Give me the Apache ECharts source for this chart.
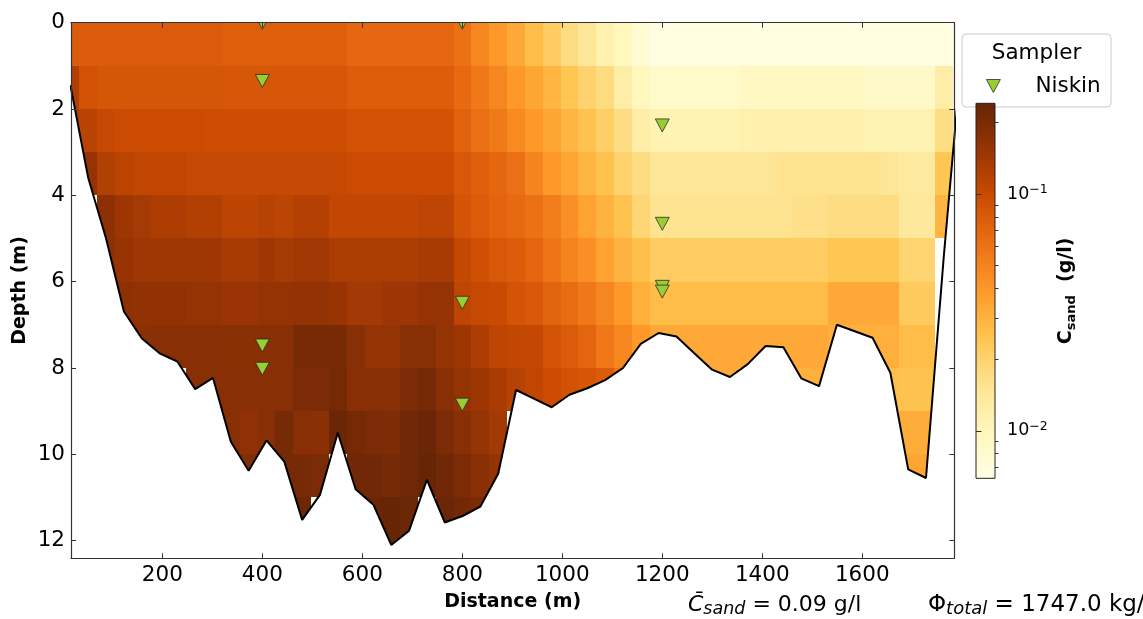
<!DOCTYPE html>
<html><head><meta charset="utf-8">
<script src="https://cdn.jsdelivr.net/npm/echarts@6/dist/echarts.min.js"></script>
<style>html,body{margin:0;padding:0;background:#fff}#c{width:1143px;height:619px}</style>
</head><body><div id="c"></div>
<script>
// ---------------- data ----------------
const distances = [16.2, 51.9, 87.5, 123.2, 158.8, 194.5, 230.1, 265.8, 301.4, 337.1, 372.7, 408.4, 444.0, 479.7, 515.3, 551.0, 586.6, 622.3, 657.9, 693.6, 729.2, 764.9, 800.5, 836.2, 871.8, 907.5, 943.1, 978.8, 1014.4, 1050.1, 1085.7, 1121.4, 1157.0, 1192.7, 1228.3, 1264.0, 1299.6, 1335.3, 1370.9, 1406.6, 1442.2, 1477.9, 1513.5, 1549.2, 1584.8, 1620.5, 1656.1, 1691.8, 1727.4, 1763.1];
const depthRows = [0,1,2,3,4,5,6,7,8,9,10,11,12];
const N = null;
const row0 = [0.079,0.079,0.079,0.079,0.079,0.079,0.079,0.079,0.079,0.076,0.076,0.076,0.076,0.076,0.076,0.076,0.068,0.068,0.068,0.068,0.068,0.068,0.061,0.048,0.039,0.033,0.027,0.022,0.0175,0.0146,0.0112,0.0099,0.0076,0.0066,0.0066,0.0066,0.0066,0.0066,0.0066,0.0066,0.0066,0.0066,0.0066,0.0066,0.0066,0.0066,0.0066,0.0066,0.0066,0.0066];
const row1 = [0.124,0.090,0.086,0.086,0.086,0.086,0.086,0.086,0.086,0.084,0.084,0.084,0.084,0.084,0.084,0.084,0.077,0.077,0.077,0.077,0.077,0.077,0.066,0.056,0.048,0.039,0.034,0.029,0.024,0.020,0.0177,0.0125,0.0099,0.0085,0.0085,0.0085,0.0085,0.0085,0.0093,0.0093,0.0093,0.0093,0.0093,0.0093,0.0093,0.0087,0.0087,0.0087,0.0087,0.0125];
const row2 = [0.135,0.115,0.103,0.098,0.098,0.098,0.098,0.098,0.096,0.096,0.096,0.096,0.096,0.096,0.096,0.096,0.089,0.089,0.089,0.089,0.089,0.089,0.073,0.062,0.055,0.046,0.039,0.034,0.029,0.025,0.021,0.0173,0.0125,0.011,0.011,0.011,0.011,0.011,0.0117,0.0117,0.0117,0.0117,0.0117,0.0117,0.0117,0.011,0.011,0.011,0.011,0.017];
const row3 = [N,0.157,0.123,0.112,0.108,0.108,0.108,0.103,0.103,0.103,0.103,0.103,0.103,0.103,0.103,0.103,0.098,0.098,0.098,0.098,0.098,0.098,0.083,0.075,0.069,0.062,0.049,0.039,0.034,0.029,0.025,0.020,0.0175,0.0146,0.0146,0.0146,0.0146,0.0146,0.0146,0.0146,0.0156,0.0156,0.0156,0.0156,0.0156,0.0156,0.0146,0.0135,0.0135,0.024];
const row4 = [N,N,0.171,0.147,0.137,0.128,0.128,0.122,0.122,0.111,0.111,0.118,0.111,0.12,0.12,0.106,0.106,0.106,0.106,0.106,0.11,0.11,0.088,0.079,0.071,0.066,0.061,0.053,0.043,0.035,0.030,0.025,0.019,0.0156,0.0156,0.0156,0.0156,0.0156,0.0156,0.0156,0.0156,0.0165,0.0165,0.0175,0.0175,0.0175,0.0175,0.014,0.014,0.029];
const row5 = [N,N,0.171,0.155,0.145,0.145,0.145,0.145,0.145,0.135,0.135,0.145,0.137,0.143,0.143,0.13,0.13,0.13,0.13,0.13,0.135,0.135,0.105,0.093,0.083,0.078,0.07,0.059,0.049,0.043,0.035,0.030,0.026,0.022,0.022,0.022,0.022,0.022,0.022,0.022,0.022,0.022,0.022,0.024,0.024,0.024,0.024,0.0195,0.0195,N];
const row6 = [N,N,N,0.171,0.163,0.163,0.163,0.16,0.16,0.152,0.152,0.16,0.16,0.162,0.162,0.155,0.14,0.14,0.148,0.148,0.158,0.158,0.11,0.103,0.10,0.088,0.082,0.072,0.065,0.056,0.048,0.039,0.031,0.027,0.027,0.027,0.027,0.027,0.027,0.027,0.027,0.027,0.027,0.033,0.033,0.033,0.033,0.0225,0.0225,N];
const row7 = [N,N,N,N,0.175,0.178,0.177,0.177,0.177,0.175,0.175,0.177,0.177,0.205,0.205,0.205,0.177,0.16,0.16,0.18,0.18,0.16,0.147,0.128,0.11,0.107,0.104,0.088,0.079,0.07,0.057,0.048,0.039,0.033,0.033,0.033,0.033,0.033,0.033,0.033,0.033,0.033,0.033,0.031,0.031,0.031,0.031,0.027,0.027,N];
const row8 = [N,N,N,N,N,N,N,0.18,0.177,0.177,0.177,0.177,0.177,0.2,0.2,0.211,0.177,0.177,0.177,0.2,0.211,0.177,0.16,0.147,0.133,0.118,0.108,0.098,0.09,0.085,0.079,0.06,N,N,N,N,0.033,0.033,N,N,N,0.031,0.031,N,N,N,0.026,0.025,0.025,N];
const row9 = [N,N,N,N,N,N,N,N,N,0.18,0.167,0.178,0.21,0.177,0.175,0.233,0.211,0.2,0.197,0.22,0.233,0.2,0.177,0.16,0.14,N,N,N,N,N,N,N,N,N,N,N,N,N,N,N,N,N,N,N,N,N,N,0.032,0.032,N];
const row10 = [N,N,N,N,N,N,N,N,N,N,0.19,N,0.21,0.21,0.2,N,0.22,0.22,0.211,0.22,0.24,0.22,0.2,0.177,0.16,N,N,N,N,N,N,N,N,N,N,N,N,N,N,N,N,N,N,N,N,N,N,0.034,0.034,N];
const row11 = [N,N,N,N,N,N,N,N,N,N,N,N,N,0.225,N,N,N,0.233,0.24,0.228,N,0.233,0.215,0.2,N,N,N,N,N,N,N,N,N,N,N,N,N,N,N,N,N,N,N,N,N,N,N,N,N,N];
const row12 = [N,N,N,N,N,N,N,N,N,N,N,N,N,N,N,N,N,N,0.246,N,N,N,N,N,N,N,N,N,N,N,N,N,N,N,N,N,N,N,N,N,N,N,N,N,N,N,N,N,N,N];
const concRows = [row0,row1,row2,row3,row4,row5,row6,row7,row8,row9,row10,row11,row12];

const bedDistance = distances.concat([1798.7]);
const bedDepth = [1.45,3.6,5.0,6.69,7.31,7.66,7.85,8.49,8.23,9.71,10.38,9.68,10.17,11.52,10.94,9.50,10.81,11.17,12.10,11.77,10.59,11.58,11.43,11.21,10.45,8.51,8.71,8.91,8.62,8.47,8.28,8.0,7.44,7.19,7.27,7.66,8.04,8.21,7.91,7.49,7.52,8.24,8.42,7.00,7.15,7.30,8.11,10.35,10.55,5.4,0.75];

const niskinDistance = [400, 800, 400, 1200, 1200, 1200, 1200, 800, 400, 400, 800];
const niskinDepth    = [0,   0,   1.35, 2.38, 4.66, 6.12, 6.23, 6.49, 7.48, 8.02, 8.85];

const xTicks = [200,400,600,800,1000,1200,1400,1600];
const yTicks = [0,2,4,6,8,10,12];
const cbarMin = 0.0063, cbarMax = 0.2415;
const cbarMajor = [0.01, 0.1];
const cbarMinor = [0.007,0.008,0.009,0.02,0.03,0.04,0.05,0.06,0.07,0.08,0.09,0.2];
const ylorbr = ['#ffffe5','#fff7bc','#fee391','#fec44f','#fe9929','#ec7014','#cc4c02','#993404','#662506'];
const meanConc = '0.09';
const totalFlux = '1747.0';

// ---------------- build ----------------
const FONT = 'DejaVu Sans';
const lo = Math.log10(cbarMin), hi = Math.log10(cbarMax);
const edges = [];
for (let k = 0; k <= distances.length; k++) {
  if (k === 0) edges.push(distances[0] - (distances[1] - distances[0]) / 2);
  else if (k === distances.length) edges.push(distances[k-1] + (distances[k-1] - distances[k-2]) / 2);
  else edges.push((distances[k-1] + distances[k]) / 2);
}
const cells = [];
concRows.forEach((row, r) => {
  row.forEach((v, k) => {
    if (v == null) return;
    const lv = Math.min(hi, Math.max(lo, Math.log10(v)));
    cells.push([edges[k], edges[k+1], depthRows[r], depthRows[r] + 1, lv]);
  });
});
const bedData = bedDistance.map((d, i) => [d, bedDepth[i]]);
const niskinData = niskinDistance.map((d, i) => [d, niskinDepth[i]]);

const spine = {color:'#333', width:1.2};
const tickStyle = {color:'#333', width:1};
const xMin = 17.4, xMax = 1784, yMax = 12.41;
const plain = v => String(v);

const chart = echarts.init(document.getElementById('c'), null, {renderer:'canvas'});
const stops = ylorbr.slice().reverse().map((c, i) => ({offset: i / (ylorbr.length - 1), color: c}));

chart.setOption({
  animation: false,
  backgroundColor: '#fff',
  grid: [
    {left:71, top:22.7, width:883.3, height:535.6, outerBoundsMode:'none'},
    {left:976, top:103.3, width:19, height:375, outerBoundsMode:'none'}
  ],
  xAxis: [
    {gridIndex:0, type:'value', position:'bottom', min:xMin, max:xMax, z:20,
     axisLine:{show:true, onZero:false, lineStyle:spine},
     axisTick:{show:true, inside:true, length:5, lineStyle:tickStyle, customValues:xTicks},
     axisLabel:{show:true, customValues:xTicks, formatter:plain, fontSize:21.5, color:'#000', margin:6, fontFamily:FONT},
     splitLine:{show:false},
     name:'Distance (m)', nameLocation:'middle', nameGap:34, nameMoveOverlap:false,
     nameTextStyle:{fontWeight:'bold', fontSize:19, color:'#000', fontFamily:FONT}},
    {gridIndex:0, type:'value', position:'top', min:xMin, max:xMax, z:20,
     axisLine:{show:true, onZero:false, lineStyle:spine},
     axisTick:{show:true, inside:true, length:5, lineStyle:tickStyle, customValues:xTicks},
     axisLabel:{show:false}, splitLine:{show:false}},
    {gridIndex:1, type:'value', min:0, max:1, show:false}
  ],
  yAxis: [
    {gridIndex:0, type:'value', position:'left', inverse:true, min:0, max:yMax, z:20,
     axisLine:{show:true, onZero:false, lineStyle:spine},
     axisTick:{show:true, inside:true, length:5, lineStyle:tickStyle, customValues:yTicks},
     axisLabel:{show:true, customValues:yTicks, formatter:plain, fontSize:21.5, color:'#000', margin:6, fontFamily:FONT},
     splitLine:{show:false},
     name:'Depth (m)', nameLocation:'middle', nameRotate:90, nameGap:41, nameMoveOverlap:false,
     nameTextStyle:{fontWeight:'bold', fontSize:19, color:'#000', fontFamily:FONT}},
    {gridIndex:0, type:'value', position:'right', inverse:true, min:0, max:yMax, z:20,
     axisLine:{show:true, onZero:false, lineStyle:spine},
     axisTick:{show:true, inside:true, length:5, lineStyle:tickStyle, customValues:yTicks},
     axisLabel:{show:false}, splitLine:{show:false}},
    {gridIndex:1, type:'value', position:'right', min:lo, max:hi, z:20,
     axisLine:{show:false},
     axisTick:{show:true, length:5.5, lineStyle:tickStyle, customValues:cbarMajor.map(Math.log10)},
     axisLabel:{show:true, customValues:cbarMajor.map(Math.log10), color:'#000', margin:12, fontFamily:FONT, fontSize:17.5,
       formatter: v => '{b|10}{p|\u2212' + Math.abs(Math.round(v)) + '}',
       rich:{b:{fontSize:17.5, lineHeight:22, fontFamily:FONT, color:'#000'},
             p:{fontSize:12.5, lineHeight:12, verticalAlign:'top', fontFamily:FONT, color:'#000'}}},
     splitLine:{show:false},
     name:'{b|C}{s|sand}{b|  (g/l)}', nameLocation:'middle', nameRotate:90, nameGap:59, nameMoveOverlap:false,
     nameTextStyle:{fontWeight:'bold', fontSize:19, color:'#000', fontFamily:FONT,
       rich:{b:{fontWeight:'bold', fontSize:19, lineHeight:24, fontFamily:FONT, color:'#000'},
             s:{fontWeight:'bold', fontSize:13, lineHeight:13, verticalAlign:'bottom', fontFamily:FONT, color:'#000'}}}},
    {gridIndex:1, type:'value', position:'right', min:lo, max:hi, z:20,
     axisLine:{show:false},
     axisTick:{show:true, length:3.5, lineStyle:tickStyle, customValues:cbarMinor.map(Math.log10)},
     axisLabel:{show:false}, splitLine:{show:false}}
  ],
  visualMap: {type:'continuous', show:false, seriesIndex:0, dimension:4, min:lo, max:hi, inRange:{color:ylorbr}},
  legend: {show:true, selectedMode:false, left:986, top:75, padding:0,
    data:[{name:'Niskin', icon:'path://M0,0L14,0L7,13Z'}],
    itemWidth:14, itemHeight:13,
    itemStyle:{borderColor:'#2b2b2b', borderWidth:0.8},
    textStyle:{fontSize:21.5, color:'#000', fontFamily:FONT, padding:[0,0,0,30]}},
  graphic: [
    {type:'rect', x:962, y:34, z:-10, shape:{width:149, height:73, r:4}, style:{fill:'rgba(255,255,255,0.85)', stroke:'#cccccc', lineWidth:1}},
    {type:'text', x:1036.5, y:53, style:{text:'Sampler', fontSize:21.5, fontFamily:FONT, fill:'#000', align:'center', verticalAlign:'middle'}},
    {type:'text', x:688, y:605, style:{text:'{c|C\u0304}{s|sand}{n| = ' + meanConc + ' g/l}', verticalAlign:'middle', fill:'#000', fontFamily:FONT, fontSize:22,
      rich:{c:{fontStyle:'italic', fontSize:22, lineHeight:27, fontFamily:FONT},
            s:{fontStyle:'italic', fontSize:17.5, lineHeight:12, verticalAlign:'bottom', fontFamily:FONT},
            n:{fontSize:22, lineHeight:27, fontFamily:FONT}}}},
    {type:'text', x:928, y:605, style:{text:'{n|\u03A6}{s|total}{n| = ' + totalFlux + ' kg/s}', verticalAlign:'middle', fill:'#000', fontFamily:FONT, fontSize:23,
      rich:{s:{fontStyle:'italic', fontSize:18, lineHeight:12, verticalAlign:'bottom', fontFamily:FONT},
            n:{fontSize:23, lineHeight:27, fontFamily:FONT}}}}
  ],
  series: [
    {type:'custom', name:'conc', xAxisIndex:0, yAxisIndex:0, clip:true, silent:true, z:2,
     dimensions:['x0','x1','d0','d1','logc'], encode:{x:[0,1], y:[2,3]},
     data: cells,
     renderItem: function (params, api) {
       const a = api.coord([api.value(0), api.value(2)]);
       const b = api.coord([api.value(1), api.value(3)]);
       const x0 = Math.round(a[0]), x1 = Math.round(b[0]), y0 = Math.round(a[1]), y1 = Math.round(b[1]);
       const c = api.visual('color');
       return {type:'rect', shape:{x:x0, y:y0, width:x1-x0, height:y1-y0}, style:{fill:c}};
     }},
    {type:'line', name:'bed', xAxisIndex:0, yAxisIndex:0, data: bedData, symbol:'none', silent:true, z:5, clip:true,
     lineStyle:{color:'#000', width:2}, areaStyle:{color:'#fff', opacity:1, origin:'end'}},
    {type:'custom', name:'Niskin', xAxisIndex:0, yAxisIndex:0, clip:true, silent:true, z:10,
     itemStyle:{color:'#9acd32'},
     data: niskinData,
     renderItem: function (params, api) {
       const p = api.coord([api.value(0), api.value(1)]);
       return {type:'polygon', shape:{points:[[p[0]-7, p[1]-6.5],[p[0]+7, p[1]-6.5],[p[0], p[1]+6.5]]},
               style:{fill:'#9acd32', stroke:'#2b2b2b', lineWidth:0.8}};
     }},
    {type:'custom', name:'cbar', xAxisIndex:2, yAxisIndex:2, silent:true, z:3,
     data: [[0, 1, lo, hi]],
     renderItem: function (params, api) {
       const a = api.coord([api.value(0), api.value(3)]);
       const b = api.coord([api.value(1), api.value(2)]);
       return {type:'rect', shape:{x:a[0], y:a[1], width:b[0]-a[0], height:b[1]-a[1]},
               style:{fill:new echarts.graphic.LinearGradient(0,0,0,1, stops), stroke:'#222', lineWidth:1}};
     }}
  ]
});
</script>
</body></html>
